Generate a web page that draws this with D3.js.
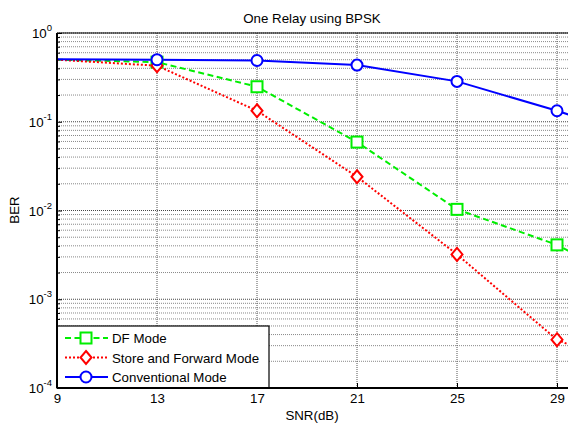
<!DOCTYPE html>
<html><head><meta charset="utf-8">
<script src="https://cdn.jsdelivr.net/npm/d3@7"></script>
<style>
html,body{margin:0;padding:0;background:#fff;overflow:hidden}
text{font-family:"Liberation Sans",Arial,sans-serif;fill:#000}
</style></head>
<body><svg id="chart" width="568" height="423"></svg>
<script>
// SNR points (dB) and BER for each relaying scheme
const snr = [9, 13, 17, 21, 25, 29, 33];
const berDF = [0.5, 0.47, 0.248, 0.059, 0.0103, 0.0041, 0.00107];
const berStore = [0.5, 0.428, 0.133, 0.024, 0.0032, 0.00035, 0.00012];
const berConv = [0.505, 0.5, 0.49, 0.435, 0.285, 0.133, 0.056];
const xTicks = [9, 13, 17, 21, 25, 29];
const yDecades = [0, -1, -2, -3, -4];

const FS = 13.3;
const svg = d3.select("#chart");
const plotL = 57, plotT = 33, plotB = 388;
const x = d3.scaleLinear().domain([9, 33]).range([plotL, plotL + 24 * 25]);
const y = d3.scaleLog().domain([1e-4, 1]).range([plotB, plotT]);
const plotR = x(33);

svg.append("text").attr("x", 312).attr("y", 23).attr("text-anchor", "middle")
  .attr("font-size", FS).text("One Relay using BPSK");

// grid
const g = svg.append("g");
const minor = [];
for (let e = -4; e < 0; e++) for (let m = 2; m <= 9; m++) minor.push(m * Math.pow(10, e));
g.selectAll(".hmin").data(minor).join("line")
  .attr("x1", plotL).attr("x2", plotR).attr("y1", d => y(d)).attr("y2", d => y(d))
  .attr("stroke", "#888").attr("stroke-width", 1).attr("stroke-dasharray", "1,1");
g.selectAll(".hmaj").data(yDecades.map(e => Math.pow(10, e))).join("line")
  .attr("x1", plotL).attr("x2", plotR).attr("y1", d => y(d)).attr("y2", d => y(d))
  .attr("stroke", "#444").attr("stroke-width", 1).attr("stroke-dasharray", "1,1");
g.selectAll(".vgrid").data(xTicks).join("line")
  .attr("x1", d => x(d)).attr("x2", d => x(d)).attr("y1", plotT).attr("y2", plotB)
  .attr("stroke", "#555").attr("stroke-width", 1).attr("stroke-dasharray", "1,1");

// axes
const xAxis = d3.axisBottom(x).tickValues(xTicks).tickSize(-5).tickPadding(6).tickFormat(d3.format("d"));
const xa = svg.append("g").attr("transform", `translate(0,${plotB})`).call(xAxis);
xa.select(".domain").remove();
xa.selectAll("text").attr("font-size", FS).attr("font-family", "Liberation Sans, Arial, sans-serif");

const yAxis = d3.axisLeft(y).tickValues(minor).tickSize(-3).tickFormat("");
const ya = svg.append("g").attr("transform", `translate(${plotL},0)`).call(yAxis);
ya.select(".domain").remove();
const yMajor = d3.axisLeft(y).tickValues(yDecades.map(e => Math.pow(10, e))).tickSize(-5).tickFormat("");
const yb = svg.append("g").attr("transform", `translate(${plotL},0)`).call(yMajor);
yb.select(".domain").remove();

// decade labels with superscript exponent
const yl = svg.append("g");
yDecades.forEach(e => {
  const t = yl.append("text").attr("x", plotL - 5).attr("y", y(Math.pow(10, e)) + 5)
    .attr("text-anchor", "end").attr("font-size", FS);
  t.append("tspan").text("10");
  t.append("tspan").attr("dy", -7).attr("font-size", 9.5).text(String(e));
});

// top frame edge
svg.append("line").attr("x1", plotL).attr("x2", plotR).attr("y1", plotT).attr("y2", plotT)
  .attr("stroke", "#000").attr("stroke-width", 1.2);

svg.append("text").attr("x", 312).attr("y", 420).attr("text-anchor", "middle")
  .attr("font-size", FS).text("SNR(dB)");
svg.append("text").attr("transform", "translate(19,210) rotate(-90)").attr("text-anchor", "middle")
  .attr("font-size", FS).text("BER");

// series
const series = [
  { name: "DF Mode", data: berDF, color: "#00ee00", dash: "6,3.5", marker: "square" },
  { name: "Store and Forward Mode", data: berStore, color: "#ff0000", dash: "2,2", marker: "diamond" },
  { name: "Conventional Mode", data: berConv, color: "#0000ff", dash: null, marker: "circle" }
];
const line = d3.line().x((d, i) => x(snr[i])).y(d => y(d));

function drawMarker(sel, kind, color) {
  if (kind === "square") {
    sel.append("rect").attr("x", -5.5).attr("y", -5.5).attr("width", 11).attr("height", 11)
      .attr("fill", "#fff").attr("stroke", color).attr("stroke-width", 2);
  } else if (kind === "diamond") {
    sel.append("path").attr("d", "M0,-6.5L5.5,0L0,6.5L-5.5,0Z")
      .attr("fill", "#fff").attr("stroke", color).attr("stroke-width", 2);
  } else {
    sel.append("circle").attr("r", 5.5)
      .attr("fill", "#fff").attr("stroke", color).attr("stroke-width", 2);
  }
}

series.forEach(s => {
  svg.append("path").datum(s.data).attr("d", line).attr("fill", "none")
    .attr("stroke", s.color).attr("stroke-width", 2)
    .attr("stroke-dasharray", s.dash);
});
series.forEach(s => {
  s.data.forEach((v, i) => {
    if (i === 0) return;
    const m = svg.append("g").attr("transform", `translate(${x(snr[i])},${y(v)})`);
    drawMarker(m, s.marker, s.color);
  });
});

// legend
const lg = svg.append("g");
lg.append("rect").attr("x", plotL).attr("y", 326).attr("width", 212).attr("height", 62)
  .attr("fill", "#fff").attr("stroke", "#000").attr("stroke-width", 1.2);
series.forEach((s, i) => {
  const yy = 338 + i * 19.5;
  lg.append("line").attr("x1", 65).attr("x2", 108).attr("y1", yy).attr("y2", yy)
    .attr("stroke", s.color).attr("stroke-width", 2).attr("stroke-dasharray", s.dash);
  const m = lg.append("g").attr("transform", `translate(86,${yy})`);
  drawMarker(m, s.marker, s.color);
  lg.append("text").attr("x", 112).attr("y", yy + 5).attr("font-size", FS).text(s.name);
});
// left and bottom axis edges drawn last
svg.append("line").attr("x1", plotL).attr("x2", plotL).attr("y1", plotT).attr("y2", plotB)
  .attr("stroke", "#000").attr("stroke-width", 2);
svg.append("line").attr("x1", plotL).attr("x2", plotR).attr("y1", plotB).attr("y2", plotB)
  .attr("stroke", "#000").attr("stroke-width", 2);
</script></body></html>
